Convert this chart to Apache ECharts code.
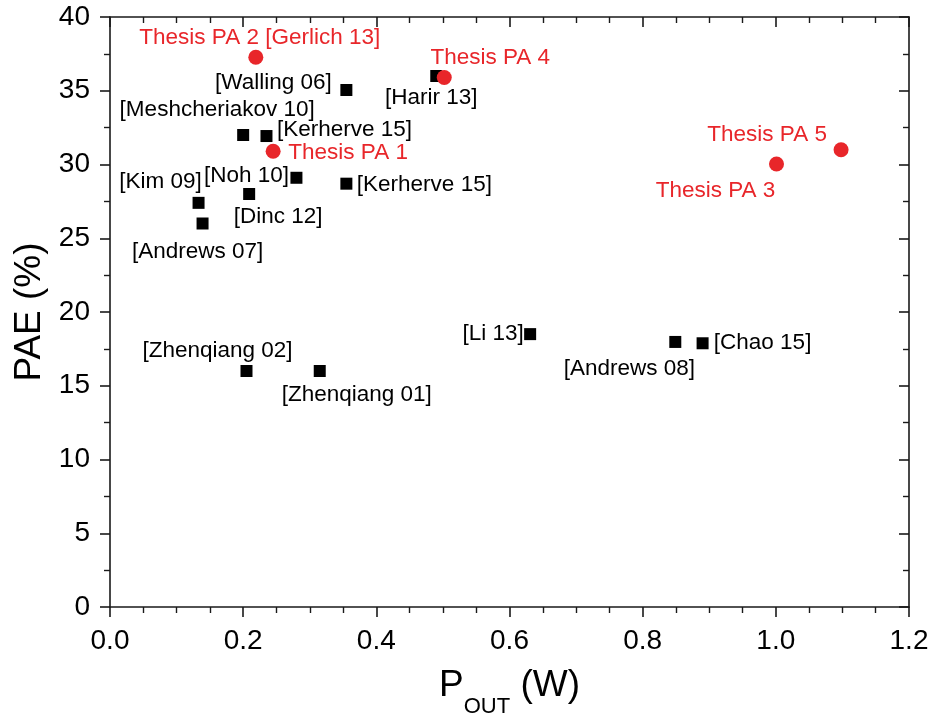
<!DOCTYPE html>
<html>
<head>
<meta charset="utf-8">
<script src="https://cdn.jsdelivr.net/npm/echarts@6/dist/echarts.min.js"></script>
<style>
html,body{margin:0;padding:0;background:#fff;}
#chart{width:935px;height:714px;}
</style>
</head>
<body>
<div id="chart"></div>
<script>
// ---- data ----
const refNames = ['[Walling 06]','[Harir 13]','[Meshcheriakov 10]','[Kerherve 15]','[Noh 10]','[Kerherve 15]','[Kim 09]','[Dinc 12]','[Andrews 07]','[Zhenqiang 02]','[Zhenqiang 01]','[Li 13]','[Andrews 08]','[Chao 15]'];
const refX = [0.355,0.490,0.200,0.235,0.280,0.355,0.133,0.209,0.139,0.205,0.315,0.631,0.849,0.890];
const refY = [35.05,36.0,32.0,31.93,29.1,28.7,27.4,28.0,26.0,16.0,16.0,18.5,17.97,17.88];

const thesisNames = ['Thesis PA 2 [Gerlich 13]','Thesis PA 4','Thesis PA 1','Thesis PA 5','Thesis PA 3'];
const thesisX = [0.219,0.502,0.245,1.098,1.001];
const thesisY = [37.27,35.9,30.9,31.0,30.03];

const xTicks = [0.0,0.2,0.4,0.6,0.8,1.0,1.2];
const yTicks = [0,5,10,15,20,25,30,35,40];

// ---- label placement (pixel offsets, style only) ----
const refLabelOffsets = [[-73,-7],[-5,22],[-26,-25],[78,-6],[-50,-2],[78,1],[-38,-21],[29,23],[-5,28],[-29,-20],[37,24],[-37,0],[-46,27],[60,0]];
const thesisLabelOffsets = [[4,-19],[46,-20],[75,2],[-74,-15],[-61,27]];

const RED = '#e8262a';
const FONT = 'Liberation Sans, Arial, sans-serif';

const refData = refNames.map((n,i)=>({
  value:[refX[i],refY[i]], name:n,
  label:{offset:refLabelOffsets[i]}
}));
const thesisData = thesisNames.map((n,i)=>({
  value:[thesisX[i],thesisY[i]], name:n,
  label:{offset:thesisLabelOffsets[i]}
}));

const axisLineStyle = {color:'#1a1a1a', width:1.6};
const minorStyle = {color:'#1a1a1a', width:1.4};

const chart = echarts.init(document.getElementById('chart'), null, {renderer:'canvas'});
chart.setOption({
  animation:false,
  backgroundColor:'#fff',
  grid:{left:110, right:26, top:17, bottom:107, containLabel:false, outerBoundsMode:'none'},
  xAxis:[{
    type:'value', min:xTicks[0], max:xTicks[xTicks.length-1], interval:0.2, position:'bottom',
    axisLine:{show:true, onZero:false, lineStyle:axisLineStyle},
    axisTick:{show:true, inside:false, length:10, lineStyle:axisLineStyle},
    minorTick:{show:true, splitNumber:4, length:6, lineStyle:minorStyle},
    splitLine:{show:false},
    axisLabel:{fontSize:28, fontFamily:FONT, color:'#000', margin:20, formatter:v=>v.toFixed(1)},
    name:'{a|P}{b|OUT}{a| (W)}', nameLocation:'middle', nameGap:60,
    nameTextStyle:{rich:{
      a:{fontSize:37, fontFamily:FONT, color:'#000', verticalAlign:'bottom'},
      b:{fontSize:22, fontFamily:FONT, color:'#000', padding:[0,0,-14,0], verticalAlign:'bottom'}
    }}
  },{
    type:'value', min:xTicks[0], max:xTicks[xTicks.length-1], interval:0.2, position:'top',
    axisLine:{show:true, onZero:false, lineStyle:axisLineStyle},
    axisTick:{show:true, inside:true, length:10, lineStyle:axisLineStyle},
    minorTick:{show:true, splitNumber:4, length:6, lineStyle:minorStyle},
    splitLine:{show:false}, axisLabel:{show:false}
  }],
  yAxis:[{
    type:'value', min:yTicks[0], max:yTicks[yTicks.length-1], interval:5, position:'left',
    axisLine:{show:true, onZero:false, lineStyle:axisLineStyle},
    axisTick:{show:true, inside:false, length:10, lineStyle:axisLineStyle},
    minorTick:{show:true, splitNumber:2, length:6, lineStyle:minorStyle},
    splitLine:{show:false},
    axisLabel:{fontSize:28, fontFamily:FONT, color:'#000', margin:20},
    name:'PAE (%)', nameLocation:'middle', nameGap:46,
    nameTextStyle:{fontSize:37, fontFamily:FONT, color:'#000'}
  },{
    type:'value', min:yTicks[0], max:yTicks[yTicks.length-1], interval:5, position:'right',
    axisLine:{show:true, onZero:false, lineStyle:axisLineStyle},
    axisTick:{show:true, inside:true, length:10, lineStyle:axisLineStyle},
    minorTick:{show:true, splitNumber:2, length:6, lineStyle:minorStyle},
    splitLine:{show:false}, axisLabel:{show:false}
  }],
  series:[{
    type:'scatter', xAxisIndex:0, yAxisIndex:0,
    symbol:'rect', symbolSize:12,
    itemStyle:{color:'#000', opacity:1},
    label:{show:true, position:'inside', formatter:'{b}', fontSize:22.5, fontFamily:FONT, color:'#000', align:'center', verticalAlign:'middle'},
    emphasis:{disabled:true},
    data:refData, z:2
  },{
    type:'scatter', xAxisIndex:0, yAxisIndex:0,
    symbol:'circle', symbolSize:15,
    itemStyle:{color:RED, opacity:1},
    label:{show:true, position:'inside', formatter:'{b}', fontSize:22.5, fontFamily:FONT, color:RED, align:'center', verticalAlign:'middle'},
    emphasis:{disabled:true},
    data:thesisData, z:3
  }]
});
</script>
</body>
</html>
